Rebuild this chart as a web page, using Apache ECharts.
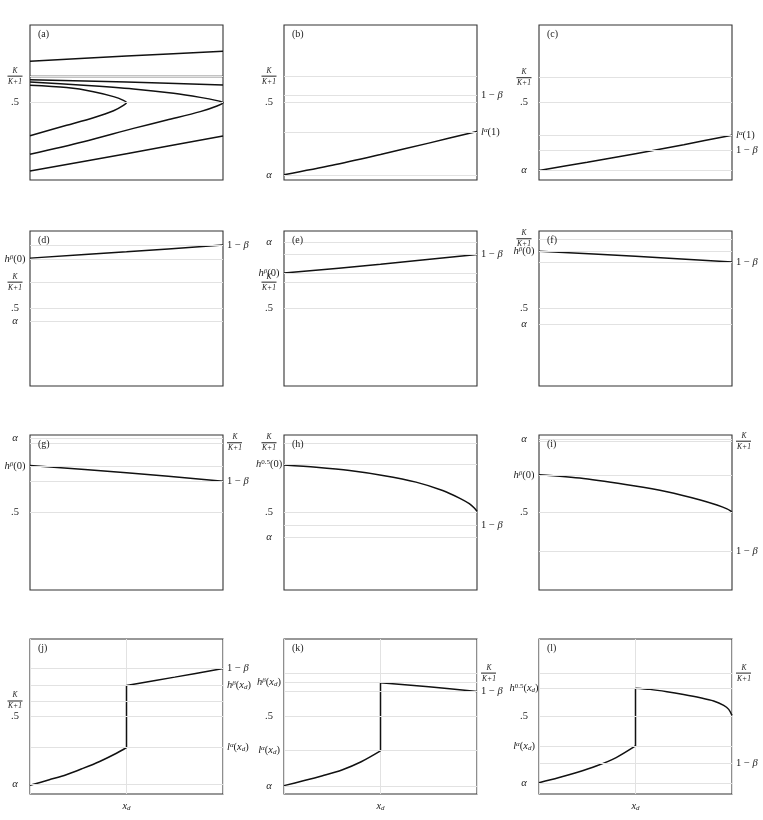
<!DOCTYPE html>
<html>
<head>
<meta charset="utf-8">
<script src="https://cdn.jsdelivr.net/npm/echarts@6/dist/echarts.min.js"></script>
<style>
  html, body { margin: 0; background: #fff; }
  #main { width: 763px; height: 820px; }
</style>
</head>
<body>
<div id="main"></div>
<script>
  var serif = '"Liberation Serif", "DejaVu Serif", serif';

  // panel tags, one per box, read row by row
  var panelTags = ['(a)', '(b)', '(c)', '(d)', '(e)', '(f)', '(g)', '(h)', '(i)', '(j)', '(k)', '(l)'];

  // tick levels (y in 0..1) and their labels on the left / right of each box
  var leftVals = [
    [0.667, 0.5],
    [0.667, 0.5, 0.034],
    [0.664, 0.503, 0.062],
    [0.825, 0.673, 0.5, 0.422],
    [0.931, 0.729, 0.669, 0.497],
    [0.953, 0.869, 0.497, 0.404],
    [0.976, 0.804, 0.501],
    [0.953, 0.808, 0.497, 0.345],
    [0.974, 0.744, 0.501],
    [0.602, 0.499, 0.056],
    [0.717, 0.497, 0.278, 0.054],
    [0.683, 0.499, 0.31, 0.073]
  ];
  var leftText = [
    ['K/(K+1)', '.5'],
    ['K/(K+1)', '.5', 'α'],
    ['K/(K+1)', '.5', 'α'],
    ['hβ(0)', 'K/(K+1)', '.5', 'α'],
    ['α', 'hβ(0)', 'K/(K+1)', '.5'],
    ['K/(K+1)', 'hβ(0)', '.5', 'α'],
    ['α', 'hβ(0)', '.5'],
    ['K/(K+1)', 'h0.5(0)', '.5', 'α'],
    ['α', 'hβ(0)', '.5'],
    ['K/(K+1)', '.5', 'α'],
    ['hβ(xd)', '.5', 'lα(xd)', 'α'],
    ['h0.5(xd)', '.5', 'lα(xd)', 'α']
  ];
  var rightVals = [
    [],
    [0.546, 0.313],
    [0.289, 0.193],
    [0.909],
    [0.849],
    [0.8],
    [0.955, 0.701],
    [0.418],
    [0.957, 0.249],
    [0.809, 0.7, 0.3],
    [0.775, 0.662],
    [0.775, 0.197]
  ];
  var rightText = [
    [],
    ['1−β', 'lα(1)'],
    ['lα(1)', '1−β'],
    ['1−β'],
    ['1−β'],
    ['1−β'],
    ['K/(K+1)', '1−β'],
    ['1−β'],
    ['K/(K+1)', '1−β'],
    ['1−β', 'hβ(xd)', 'lα(xd)'],
    ['K/(K+1)', '1−β'],
    ['K/(K+1)', '1−β']
  ];

  // curves of each panel, [x, y] points in drawing order
  var aCurves = [
    [[0, 0.766], [0.5, 0.800], [1, 0.830]],
    [[0, 0.667], [1, 0.667]],
    [[0, 0.647], [0.5, 0.632], [1, 0.613]],
    [[0, 0.632], [0.277, 0.611], [0.536, 0.587], [0.744, 0.559], [0.882, 0.533], [0.969, 0.512], [1, 0.5],
     [0.969, 0.477], [0.882, 0.441], [0.709, 0.387], [0.536, 0.333], [0.277, 0.247], [0, 0.166]],
    [[0, 0.611], [0.19, 0.596], [0.329, 0.57], [0.433, 0.538], [0.484, 0.514], [0.5, 0.5],
     [0.484, 0.482], [0.433, 0.447], [0.329, 0.402], [0.19, 0.353], [0, 0.286]],
    [[0, 0.058], [0.5, 0.170], [1, 0.284]]
  ];
  var bCurves = [
    [[0, 0.034], [0.25, 0.095], [0.5, 0.165], [0.75, 0.238], [1, 0.313]]
  ];
  var cCurves = [
    [[0, 0.062], [0.25, 0.114], [0.5, 0.170], [0.75, 0.228], [1, 0.289]]
  ];
  var dCurves = [
    [[0, 0.825], [0.5, 0.866], [1, 0.909]]
  ];
  var eCurves = [
    [[0, 0.729], [0.5, 0.785], [1, 0.849]]
  ];
  var fCurves = [
    [[0, 0.869], [0.5, 0.837], [1, 0.8]]
  ];
  var gCurves = [
    [[0, 0.804], [0.5, 0.757], [1, 0.701]]
  ];
  var hCurves = [
    [[0, 0.807], [0.167, 0.792], [0.34, 0.771], [0.512, 0.739], [0.684, 0.696], [0.822, 0.642],
     [0.909, 0.593], [0.96, 0.557], [0.986, 0.529], [1, 0.508]]
  ];
  var iCurves = [
    [[0, 0.744], [0.23, 0.72], [0.49, 0.673], [0.663, 0.634], [0.836, 0.581], [0.922, 0.548],
     [0.974, 0.523], [1, 0.505]]
  ];
  var jCurves = [
    [[0, 0.056], [0.1, 0.092], [0.188, 0.124], [0.274, 0.165], [0.361, 0.21], [0.448, 0.263], [0.5, 0.3]],
    [[0.5, 0.3], [0.5, 0.7]],
    [[0.5, 0.7], [0.75, 0.754], [1, 0.809]]
  ];
  var kCurves = [
    [[0, 0.054], [0.1, 0.085], [0.2, 0.118], [0.3, 0.155], [0.4, 0.208], [0.5, 0.278]],
    [[0.5, 0.278], [0.5, 0.717]],
    [[0.5, 0.717], [0.75, 0.692], [1, 0.662]]
  ];
  var lCurves = [
    [[0, 0.073], [0.1, 0.105], [0.2, 0.14], [0.3, 0.182], [0.4, 0.235], [0.5, 0.31]],
    [[0.5, 0.31], [0.5, 0.683]],
    [[0.5, 0.683], [0.576, 0.675], [0.663, 0.66], [0.749, 0.642], [0.836, 0.621], [0.905, 0.6],
     [0.957, 0.572], [0.983, 0.546], [1, 0.507]]
  ];
  var curveSets = [aCurves, bCurves, cCurves, dCurves, eCurves, fCurves,
                   gCurves, hCurves, iCurves, jCurves, kCurves, lCurves];

  // box placement in pixels
  var colLeft = [30, 284, 539];
  var rowTop = [25, 231, 435, 639];
  var boxW = 193, boxH = 155;

  // label markup for the math text
  var richText = {
    'K/(K+1)': '{fk|K}\n{bar| }\n{fk|K+1}',
    '.5': '{n|.5}',
    'α': '{i|α}',
    '1−β': '{n|1 − }{i|β}',
    'lα(1)': '{i|l}{sup|α}{n|(1)}',
    'hβ(0)': '{i|h}{sup|β}{n|(0)}',
    'h0.5(0)': '{i|h}{supn|0.5}{n|(0)}',
    'hβ(xd)': '{i|h}{sup|β}{n|(}{i|x}{sub|d}{n|)}',
    'lα(xd)': '{i|l}{sup|α}{n|(}{i|x}{sub|d}{n|)}',
    'h0.5(xd)': '{i|h}{supn|0.5}{n|(}{i|x}{sub|d}{n|)}'
  };
  var rich = {
    n: { fontFamily: serif, fontSize: 10.5, color: '#222' },
    i: { fontFamily: serif, fontSize: 10.5, fontStyle: 'italic', color: '#222' },
    sup: { fontFamily: serif, fontSize: 7, fontStyle: 'italic', color: '#222', verticalAlign: 'top' },
    supn: { fontFamily: serif, fontSize: 7, color: '#222', verticalAlign: 'top' },
    sub: { fontFamily: serif, fontSize: 7, fontStyle: 'italic', color: '#222', verticalAlign: 'bottom' },
    fk: { fontFamily: serif, fontSize: 7.5, fontStyle: 'italic', color: '#222', width: 16, align: 'center', lineHeight: 8 },
    bar: { width: 15, height: 1, lineHeight: 3, backgroundColor: '#222' }
  };

  var grids = [], xAxes = [], yAxes = [], titles = [], series = [];

  curveSets.forEach(function (curves, p) {
    var row = Math.floor(p / 3), col = p % 3;
    var bottomRow = row === 3;
    grids.push({
      left: colLeft[col], top: rowTop[row], width: boxW, height: boxH,
      show: true, borderColor: '#333', borderWidth: 1.1, backgroundColor: 'transparent'
    });
    xAxes.push({
      type: 'value', gridIndex: p, min: 0, max: 1, interval: 0.5,
      axisLine: { show: false }, axisTick: { show: false },
      splitLine: { show: bottomRow, lineStyle: { color: '#e2e2e2', width: 1 } },
      axisLabel: {
        show: bottomRow, margin: 7,
        formatter: function (v) { return v === 0.5 ? '{i|x}{sub|d}' : ''; },
        rich: rich
      }
    });
    yAxes.push({
      type: 'value', gridIndex: p, min: 0, max: 1,
      axisLine: { show: false }, axisTick: { show: false },
      axisLabel: { show: false }, splitLine: { show: false }
    });
    titles.push({
      text: panelTags[p], left: colLeft[col] + 8, top: rowTop[row] + 4, padding: 0,
      textStyle: { fontFamily: serif, fontSize: 10, fontWeight: 'normal', color: '#222' }
    });

    var marks = [];
    leftVals[p].forEach(function (v, k) {
      marks.push({ yAxis: v, label: { position: 'start', align: 'center', distance: 15,
        formatter: richText[leftText[p][k]] } });
    });
    rightVals[p].forEach(function (v, k) {
      marks.push({ yAxis: v, label: { position: 'end', align: 'left', distance: 4,
        formatter: richText[rightText[p][k]] } });
    });

    // hidden carrier series for the grey level lines and their labels
    series.push({
      type: 'line', xAxisIndex: p, yAxisIndex: p, data: curves[0],
      showSymbol: false, silent: true, z: 1,
      lineStyle: { opacity: 0 },
      markLine: {
        silent: true, symbol: 'none', animation: false,
        lineStyle: { color: '#e2e2e2', width: 1, type: 'solid' },
        label: { rich: rich, color: '#222' },
        data: marks
      }
    });

    curves.forEach(function (c) {
      var jump = c.length === 2 && c[0][0] === c[1][0];
      series.push({
        type: 'line', xAxisIndex: p, yAxisIndex: p, data: c,
        showSymbol: false, silent: true, z: 3,
        smooth: jump ? false : 0.3,
        lineStyle: { color: '#111', width: 1.5 }
      });
    });
  });

  var chart = echarts.init(document.getElementById('main'));
  chart.setOption({
    animation: false,
    backgroundColor: '#fff',
    title: titles,
    grid: grids,
    xAxis: xAxes,
    yAxis: yAxes,
    series: series
  });
</script>
</body>
</html>
